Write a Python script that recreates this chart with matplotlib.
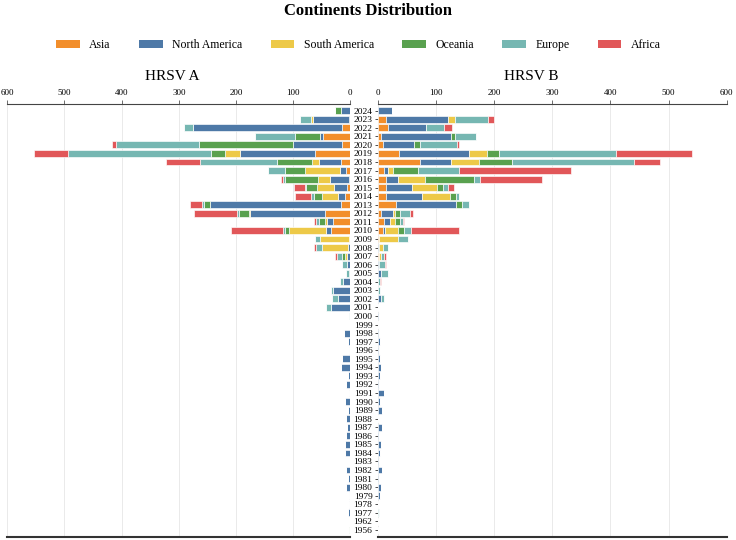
import numpy as np
from matplotlib import pyplot as plt
from matplotlib.patches import Patch

plt.rcParams['font.family'] = ['Liberation Serif', 'DejaVu Serif']

years = [2024, 2023, 2022, 2021, 2020, 2019, 2018, 2017, 2016, 2015, 2014, 2013,
         2012, 2011, 2010, 2009, 2008, 2007, 2006, 2005, 2004, 2003, 2002, 2001,
         2000, 1999, 1998, 1997, 1996, 1995, 1994, 1993, 1992, 1991, 1990, 1989,
         1988, 1987, 1986, 1985, 1984, 1983, 1982, 1981, 1980, 1979, 1978, 1977,
         1962, 1956]

continents = ['Asia', 'North America', 'South America', 'Oceania', 'Europe', 'Africa']
colors = ['#F28E2B', '#4E79A7', '#EDC948', '#59A14F', '#76B7B2', '#E15759']

# HRSV A, one list per continent, same order as years
a_asia = [0, 3, 15, 48, 15, 62, 16, 8, 2, 5, 9, 17, 44, 31, 33, 2, 0, 0, 0, 0, 0, 0, 0, 0,
          0, 0, 0, 0, 0, 0, 0, 0, 0, 0, 0, 0, 0, 0, 0, 0, 0, 0, 0, 0, 0, 0, 0, 0, 0, 0]
a_namerica = [17, 62, 260, 5, 85, 131, 39, 10, 34, 24, 13, 229, 131, 10, 9, 0, 4, 6, 6, 3,
              13, 30, 22, 33, 0, 0, 10.5, 4, 3, 14, 16, 4, 7.5, 3, 8.5, 4, 8, 6.5, 7, 8.5,
              8.5, 1, 7.5, 4.5, 8, 3, 2, 4, 0, 0]
a_samerica = [0, 3, 0, 0, 0, 27, 12, 62, 21, 30, 28, 0, 2, 3, 65, 51, 46, 4, 0, 0, 0, 0, 0, 0,
              0, 0, 0, 0, 0, 0, 0, 0, 0, 0, 0, 0, 0, 0, 0, 0, 0, 0, 0, 0, 0, 0, 0, 0, 0, 0]
a_oceania = [9, 0, 0, 44, 165, 24, 62, 35, 58, 19, 13, 10, 17, 11, 7, 0, 0, 4, 0, 0, 0, 0, 0, 0,
             0, 0, 0, 0, 0, 0, 0, 0, 0, 0, 0, 0, 0, 0, 0, 0, 0, 0, 0, 0, 0, 0, 0, 0, 0, 3]
a_europe = [0, 20, 15, 69, 145, 249, 133, 29, 3, 2, 5, 4, 5, 5, 3, 9, 10, 9, 8, 5, 5, 3, 10, 10,
            3, 0, 0, 0, 0, 0, 0, 0, 0, 0, 0, 0, 0, 0, 0, 0, 0, 0, 0, 0, 0, 0, 0, 0, 0, 0]
a_africa = [0, 0, 0, 0, 6, 61, 60, 0, 4, 19, 28, 20, 74, 3, 91, 0, 4, 4, 0, 0, 0, 0, 0, 0,
            0, 0, 0, 0, 0, 0, 0, 0, 0, 0, 0, 0, 0, 0, 0, 0, 0, 0, 0, 0, 0, 0, 0, 0, 0, 0]

# HRSV B
b_asia = [0, 13, 17, 5, 9, 36, 73, 11, 13, 13, 13, 31, 6, 11, 9, 1, 0, 1, 0, 0, 0, 0, 0, 0,
          0, 0, 0, 0, 0, 0, 0, 0, 0, 0, 0, 0, 0, 0, 0, 0, 0, 0, 0, 0, 0, 0, 0, 0, 0, 0]
b_namerica = [23.5, 108, 65, 121, 53, 120, 52, 6, 22, 46, 63, 103, 19, 10, 3, 0, 2, 0, 2, 6,
              0, 0, 6, 0, 1, 0, 1.5, 3, 2, 4, 6, 4, 2, 10, 4, 6.5, 0, 7.5, 2, 4.5,
              3, 2, 7.5, 1.5, 4.5, 3, 0, 0, 0, 0]
b_samerica = [0, 11, 0, 0, 0, 31, 48, 8, 45, 43, 48, 0, 4, 9, 23, 34, 7, 4, 0, 0, 0, 0, 0, 0,
              0, 0, 0, 0, 0, 0, 0, 0, 0, 0, 0, 0, 0, 0, 0, 0, 0, 0, 0, 0, 0, 0, 0, 0, 0, 0]
b_oceania = [0, 0, 0, 6, 10, 22, 58, 43, 85, 9, 11, 11, 9, 7, 9, 0, 0, 0, 0, 0, 0, 0, 0, 0,
             0, 0, 0, 0, 0, 0, 0, 0, 0, 0, 0, 0, 0, 0, 0, 0, 0, 0, 0, 0, 0, 0, 0, 0, 0, 0]
b_europe = [0, 58, 32, 37, 64, 200, 209, 72, 10, 10, 4, 11, 17, 6, 12, 16, 8, 6, 10, 11, 3, 3, 5, 0,
            0, 0, 0, 0, 0, 0, 0, 0, 0, 0, 0, 0, 0, 0, 0, 0, 0, 0, 0, 0, 0, 0, 0, 1.5, 0, 0]
b_africa = [0, 10, 13, 0, 4, 131, 45, 192, 107, 10, 0, 0, 5, 2, 84, 0, 0, 2, 2, 0, 2, 0, 0, 0,
            0, 0, 0, 0, 0, 0, 0, 0, 0, 0, 0, 0, 0, 0, 0, 0, 0, 0, 0, 0, 0, 0, 0, 0, 0, 0]

data_a = [a_asia, a_namerica, a_samerica, a_oceania, a_europe, a_africa]
data_b = [b_asia, b_namerica, b_samerica, b_oceania, b_europe, b_africa]

fig = plt.figure(figsize=(7.36, 5.4), dpi=100)
axA = fig.add_axes([0.0099, 0.0056, 0.466, 0.8019])
axB = fig.add_axes([0.5136, 0.0056, 0.4738, 0.8019])

ypos = np.arange(len(years))[::-1]

for ax, data in [(axA, data_a), (axB, data_b)]:
    left = np.zeros(len(years))
    for vals, col in zip(data, colors):
        vals = np.array(vals, dtype=float)
        ax.barh(ypos, vals, left=left, height=0.8, color=col,
                edgecolor='white', linewidth=0.45, zorder=2)
        left += vals
    ax.set_xlim(0, 600)
    ax.set_ylim(-0.82, 49.78)
    ax.set_xticks([0, 100, 200, 300, 400, 500, 600])
    ax.xaxis.tick_top()
    ax.tick_params(axis='x', labelsize=6.5, length=3, width=0.6, color='#555555', pad=2)
    ax.grid(axis='x', color='#e6e6e6', linewidth=0.6, zorder=0)
    ax.set_axisbelow(True)
    ax.spines['left'].set_visible(False)
    ax.spines['right'].set_visible(False)
    ax.spines['top'].set_color('#444444')
    ax.spines['top'].set_linewidth(0.8)
    ax.spines['bottom'].set_color('#333333')
    ax.spines['bottom'].set_linewidth(1.5)

axA.invert_xaxis()
axA.set_yticks([])

axB.set_yticks(ypos)
axB.set_yticklabels([str(y) for y in years])
axB.tick_params(axis='y', labelsize=6.8, length=2.5, width=0.6, color='#333333', pad=1.5)

fig.text(0.5, 0.98, 'Continents Distribution', ha='center', va='center',
         fontsize=12, fontweight='bold')
fig.text(172 / 736, 1 - 77 / 540, 'HRSV A', ha='center', va='center', fontsize=11)
fig.text(531 / 736, 1 - 77 / 540, 'HRSV B', ha='center', va='center', fontsize=11)

handles = [Patch(facecolor=c, label=n) for n, c in zip(continents, colors)]
fig.legend(handles=handles, ncol=6, loc='center', bbox_to_anchor=(0.487, 0.917),
           frameon=False, fontsize=8.5, columnspacing=2.4, handlelength=2.0)

fig.savefig('out.png', dpi=100)
